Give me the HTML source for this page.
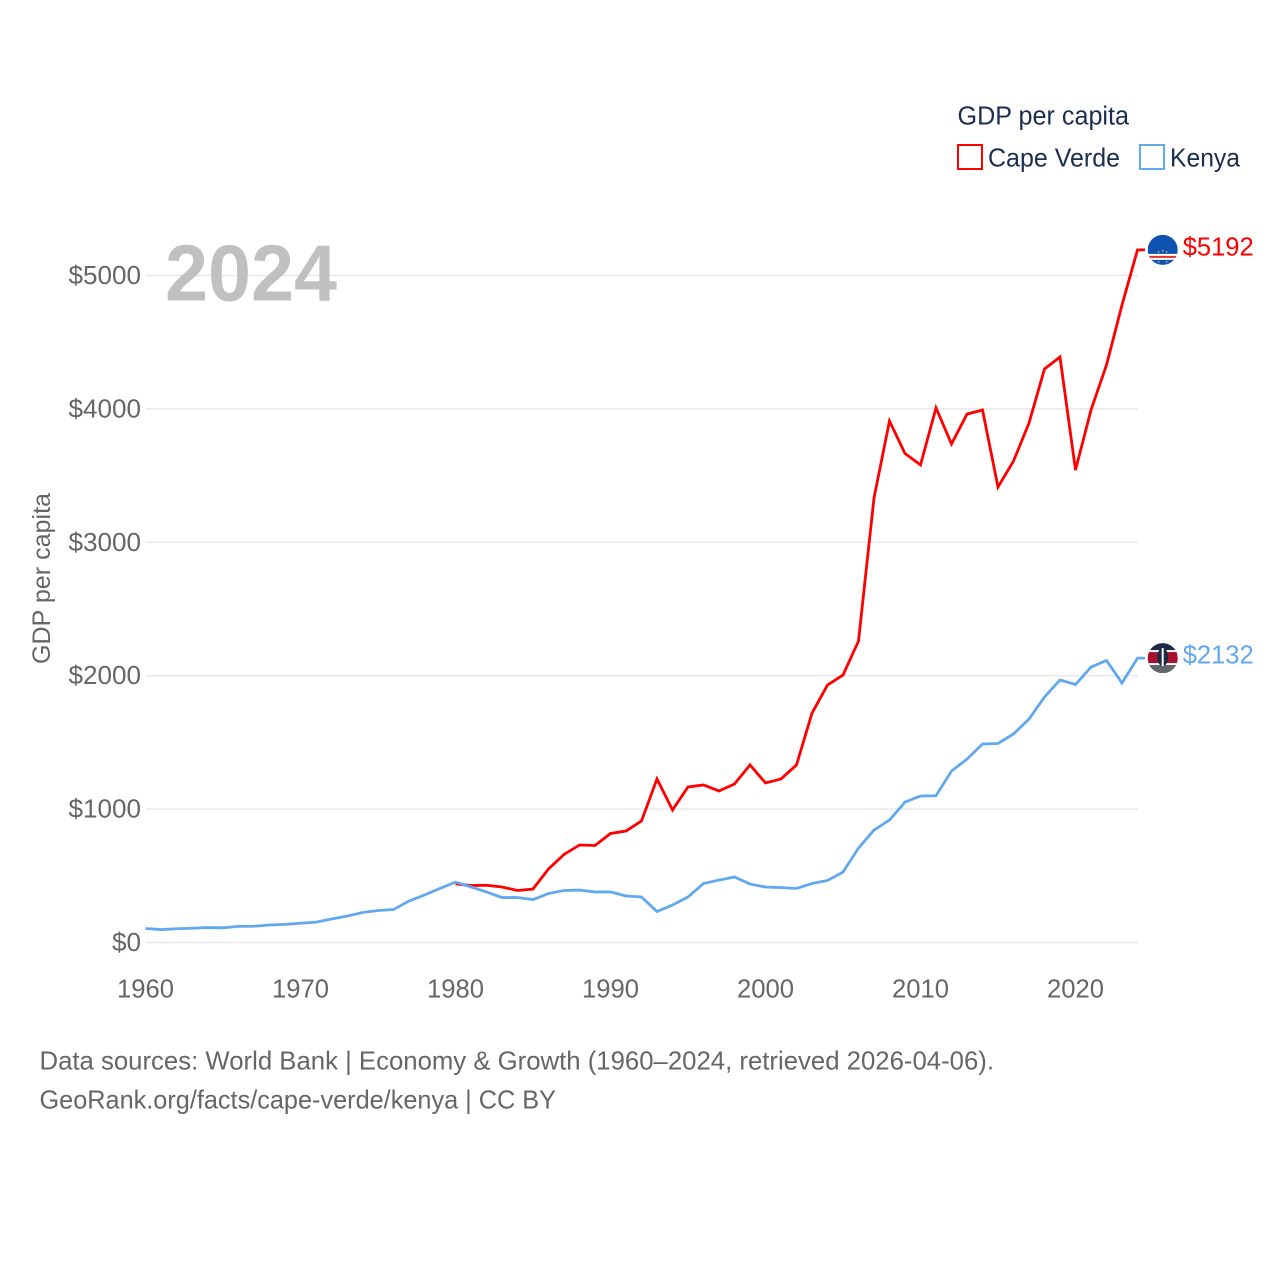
<!DOCTYPE html>
<html lang="en">
<head>
<meta charset="utf-8">
<title>GDP per capita: Cape Verde vs Kenya</title>
<style>
html,body{margin:0;padding:0;background:#fff;}
svg{display:block;}
text{font-family:"Liberation Sans",sans-serif;}
</style>
</head>
<body>
<svg id="chart" xmlns="http://www.w3.org/2000/svg" width="1280" height="1280" viewBox="0 0 1280 1280">
  <defs>
    <clipPath id="flag-clip"><circle cx="0" cy="0" r="15"/></clipPath>
  </defs>
  <g id="grid"></g>
  <text x="165" y="300.5" font-size="80" font-weight="700" fill="#bfc0bf" textLength="172" lengthAdjust="spacingAndGlyphs">2024</text>
  <g id="yticks"></g>
  <g id="xticks"></g>
  <text transform="translate(50,664) rotate(-90)" font-size="25" fill="#666666" textLength="171" lengthAdjust="spacingAndGlyphs">GDP per capita</text>
  <g id="series"></g>

  <g id="cv-end">
    <g clip-path="url(#flag-clip)">
      <rect x="-15" y="-15" width="30" height="30" fill="#0f52b0"/>
      <rect x="-15" y="4" width="30" height="6" fill="#ffffff"/>
      <rect x="-15" y="6" width="30" height="2" fill="#e8322c"/>
      <circle cx="-4" cy="2" r="0.8" fill="#d9c777"/>
      <circle cx="4" cy="2" r="0.8" fill="#d9c777"/>
      <circle cx="0" cy="1" r="0.8" fill="#d9c777"/>
      <circle cx="-4" cy="12" r="0.8" fill="#d9c777"/>
      <circle cx="4" cy="12" r="0.8" fill="#d9c777"/>
    </g>
  </g>
  <g id="ke-end">
    <g clip-path="url(#flag-clip)">
      <rect x="-15" y="-15" width="30" height="30" fill="#1b2b47"/>
      <rect x="-15" y="-8" width="30" height="15" fill="#ffffff"/>
      <rect x="-15" y="-6" width="30" height="11" fill="#a8122f"/>
      <rect x="-15" y="7" width="30" height="8" fill="#62666b"/>
      <ellipse cx="0" cy="-1" rx="5.5" ry="9" fill="#1b2b47"/>
      <rect x="-1" y="-10" width="2" height="18" fill="#ffffff"/>
    </g>
  </g>

  <g>
    <text x="957.5" y="124.5" font-size="25.5" fill="#1b2e4f" textLength="171.5" lengthAdjust="spacingAndGlyphs">GDP per capita</text>
    <rect x="958" y="145" width="24" height="24" fill="none" stroke="#ff0000" stroke-width="2"/>
    <text x="988" y="166.5" font-size="26" fill="#1b2e4f" textLength="132" lengthAdjust="spacingAndGlyphs">Cape Verde</text>
    <rect x="1140" y="145" width="24" height="24" fill="none" stroke="#62a8ef" stroke-width="2"/>
    <text x="1170" y="166.5" font-size="26" fill="#1b2e4f" textLength="70" lengthAdjust="spacingAndGlyphs">Kenya</text>
  </g>

  <g>
    <text x="39.5" y="1069.5" font-size="26" fill="#666666" textLength="954.5" lengthAdjust="spacingAndGlyphs">Data sources: World Bank | Economy &amp; Growth (1960–2024, retrieved 2026-04-06).</text>
    <text x="39.5" y="1108.5" font-size="26" fill="#666666" textLength="516.5" lengthAdjust="spacingAndGlyphs">GeoRank.org/facts/cape-verde/kenya | CC BY</text>
  </g>
</svg>
<script>
const years = [1960,1961,1962,1963,1964,1965,1966,1967,1968,1969,1970,1971,1972,1973,1974,1975,1976,1977,1978,1979,1980,1981,1982,1983,1984,1985,1986,1987,1988,1989,1990,1991,1992,1993,1994,1995,1996,1997,1998,1999,2000,2001,2002,2003,2004,2005,2006,2007,2008,2009,2010,2011,2012,2013,2014,2015,2016,2017,2018,2019,2020,2021,2022,2023,2024];
const capeVerde = [null,null,null,null,null,null,null,null,null,null,null,null,null,null,null,null,null,null,null,null,440,427,429,416,390,401,551,660,731,727,817,836,911,1226,993,1166,1181,1136,1188,1331,1196,1226,1331,1720,1930,2005,2260,3332,3909,3666,3580,4008,3737,3961,3992,3414,3609,3894,4299,4389,3542,3992,4329,4779,5192];
const kenya = [105,97,103,107,112,110,121,122,131,136,144,153,176,198,225,240,247,311,356,405,453,416,379,337,337,322,367,390,393,379,379,349,341,232,281,341,442,468,491,438,416,412,405,442,465,528,708,843,918,1053,1098,1100,1285,1375,1488,1492,1563,1675,1840,1968,1934,2065,2114,1945,2132];
const yTickValues = [0,1000,2000,3000,4000,5000];
const yTickLabels = ["$0","$1000","$2000","$3000","$4000","$5000"];
const xTickValues = [1960,1970,1980,1990,2000,2010,2020];
const xTickLabels = ["1960","1970","1980","1990","2000","2010","2020"];

const NS = "http://www.w3.org/2000/svg";
function xScale(year){ return 145.5 + (year - 1960) * 15.5; }
function yScale(value){ return 942.5 - value * 0.1334; }
function make(tag, attrs, text){
  const el = document.createElementNS(NS, tag);
  for (const k in attrs) el.setAttribute(k, attrs[k]);
  if (text !== undefined) el.textContent = text;
  return el;
}

const gridG = document.getElementById("grid");
const yG = document.getElementById("yticks");
yTickValues.forEach(function(v, i){
  const line = make("line", {x1:145.5, x2:1138, y1:yScale(v), y2:yScale(v), stroke:"#e8e8e8", "stroke-width":1.5});
  
  
  gridG.appendChild(line);
  const w = 14.5 * yTickLabels[i].length;
  const label = make("text", {x:141, y:yScale(v)+8.5, "text-anchor":"end", "font-size":26, fill:"#666666", textLength:w, lengthAdjust:"spacingAndGlyphs"}, yTickLabels[i]);
  
  
  yG.appendChild(label);
});

const xG = document.getElementById("xticks");
xTickValues.forEach(function(v, i){
  const label = make("text", {x:xScale(v), y:997.5, "text-anchor":"middle", "font-size":26, fill:"#666666", textLength:57, lengthAdjust:"spacingAndGlyphs"}, xTickLabels[i]);
  
  
  xG.appendChild(label);
});

function linePath(values){
  let d = "";
  let lastY = null;
  values.forEach(function(v, i){
    if (v === null) return;
    d += (d ? "L" : "M") + xScale(years[i]).toFixed(2) + " " + yScale(v).toFixed(2);
    lastY = yScale(v);
  });
  d += "L" + (xScale(years[years.length-1]) + 7.5).toFixed(2) + " " + lastY.toFixed(2);
  return d;
}

const seriesG = document.getElementById("series");
const cvLine = make("path", {d:linePath(capeVerde), fill:"none", stroke:"#ff0000", "stroke-width":2.8, "stroke-linejoin":"miter"});


seriesG.appendChild(cvLine);
const keLine = make("path", {d:linePath(kenya), fill:"none", stroke:"#62a8ef", "stroke-width":2.8, "stroke-linejoin":"miter"});


seriesG.appendChild(keLine);

function placeEnd(id, values, color){
  const last = values[values.length-1];
  const y = yScale(last);
  const g = document.getElementById(id);
  g.setAttribute("transform", "translate(1162.7," + y.toFixed(2) + ")");
  const label = make("text", {x:20, y:5.5, "font-size":26, fill:color, textLength:71, lengthAdjust:"spacingAndGlyphs"}, "$" + last);
  
  
  g.appendChild(label);
}
placeEnd("cv-end", capeVerde, "#ff0000");
placeEnd("ke-end", kenya, "#62a8ef");
</script>
</body>
</html>
